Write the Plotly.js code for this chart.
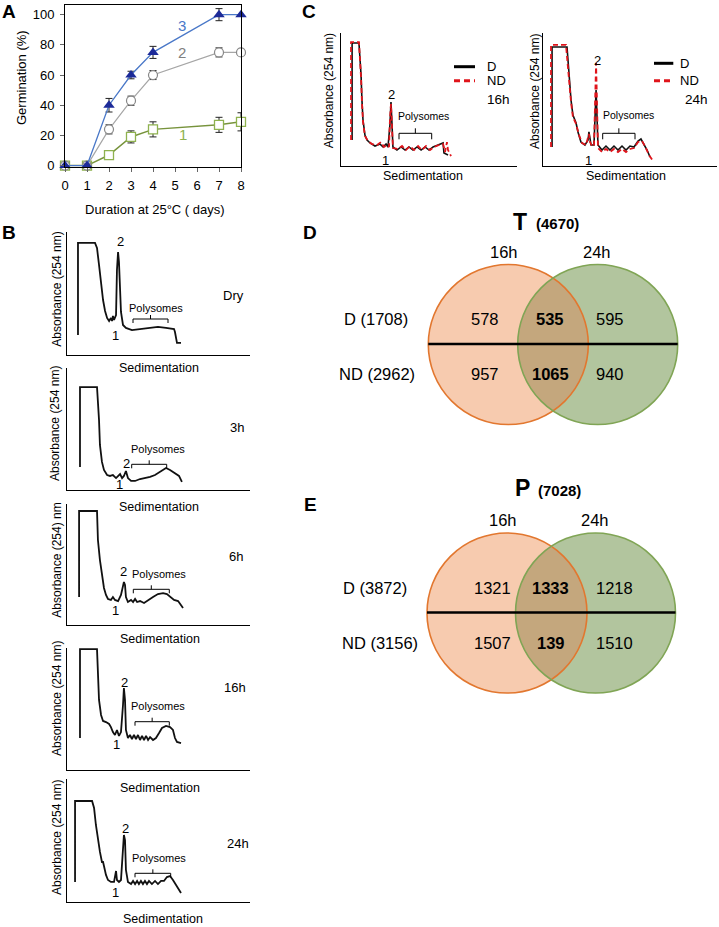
<!DOCTYPE html>
<html><head><meta charset="utf-8">
<script src="https://cdn.plot.ly/plotly-3.0.1.min.js"></script>
<style>html,body{margin:0;padding:0;background:#fff}#chart{width:719px;height:927px}</style>
</head><body><div id="chart"></div>
<script>
// ---------------- Panel A data ----------------
const daysX = [0,1,2,3,4,7,8];
const germ3 = [0,0,40,60,75,100,100];
const germ3Err = [0,1,4.5,2.5,4,4,0];
const germ2 = [0,0,24,43,60,75,75];
const germ2Err = [0,1,3,3,3,3,0];
const germ1 = [0,0,7,19,24,27,29];
const germ1Err = [0,1,2,4,5,5,6];
const dayTicks = [0,1,2,3,4,5,6,7,8];
const germTicks = [0,20,40,60,80,100];

// ---------------- Panel B profiles (sedimentation %, absorbance %) ----------------
const dryX = [6.0,6.0,15.3,16.4,17.5,18.6,19.7,20.8,21.9,23.0,24.0,24.6,25.1,25.7,26.8,27.3,27.9,28.4,29.0,29.5,30.6,32.2,35.5,39.9,45.4,49.7,54.1,58.5,59.0,59.6,60.1,62.3];
const dryY = [16.3,91.1,91.1,87.0,73.2,56.9,44.7,35.8,30.1,27.6,30.1,27.6,31.7,28.5,32.5,69.1,83.7,75.6,52.8,35.0,24.4,22.0,20.3,21.1,22.0,22.8,22.0,21.1,18.7,13.8,9.8,9.8];
const h3X = [7.1,7.1,16.4,16.9,17.5,18.0,19.1,20.2,21.9,23.5,25.1,26.8,27.9,29.0,30.1,31.1,32.2,33.3,35.0,37.2,39.9,42.6,45.4,48.1,50.8,54.1,56.3,59.0,61.2,62.8];
const h3Y = [18.9,84.4,84.4,73.8,57.4,36.9,23.0,16.4,12.3,11.5,12.3,9.8,11.5,13.1,9.8,11.5,15.6,9.8,7.4,7.4,9.0,9.8,10.7,12.3,14.8,18.0,16.4,13.9,11.5,6.6];
const h6X = [6.6,6.6,16.4,16.9,18.0,19.1,20.2,21.3,22.4,24.0,25.1,26.2,27.9,29.5,30.6,31.1,31.7,32.2,33.3,35.0,36.1,37.2,38.3,39.9,42.1,44.3,47.0,49.7,52.5,54.6,56.3,58.5,60.7,62.3,63.4];
const h6Y = [23.1,94.2,94.2,70.2,53.7,41.3,30.6,24.8,21.5,20.7,23.1,20.7,19.8,24.8,34.7,35.5,33.1,23.1,19.0,20.7,19.0,21.5,19.0,19.8,18.2,20.7,23.1,25.6,26.4,25.6,23.1,20.7,19.8,16.5,14.0];
const h16X = [7.1,7.1,16.4,16.9,17.5,18.6,19.7,21.3,23.0,24.0,25.1,26.2,27.3,28.4,29.5,30.6,31.1,31.7,32.2,33.3,34.4,35.5,36.6,37.7,38.8,39.9,41.0,42.1,43.2,44.3,45.4,47.0,48.6,50.3,51.9,54.1,56.3,57.9,59.0,60.1,62.3];
const h16Y = [26.2,99,99,73.8,57.4,45.1,40.2,39.3,37.7,35.2,31.1,28.7,32.8,27.9,31.1,53.3,67.2,57.4,32.8,26.2,28.7,25.4,28.7,25.4,28.7,24.6,27.9,24.6,27.9,24.6,27.0,24.6,26.2,30.3,34.4,36.1,35.2,32.8,26.2,23.0,22.1];
const h24X = [4.4,4.4,13.7,14.8,15.8,16.9,18.0,19.1,19.7,20.2,21.3,22.4,24.0,25.7,26.2,26.8,27.3,28.4,29.5,30.6,31.1,31.7,32.2,33.3,35.0,36.1,37.2,38.3,39.3,40.4,41.5,42.6,43.7,44.8,46.4,48.1,49.7,51.4,53.0,54.6,56.3,57.9,59.6,61.2,62.3];
const h24Y = [16.3,82.1,82.1,76.4,62.6,50.4,40.7,32.5,32.5,29.3,22.0,17.9,16.3,16.3,22.0,25.2,17.9,16.3,17.9,46.3,54.5,50.4,26.0,16.3,14.6,17.1,14.6,17.1,14.6,17.1,14.6,17.1,14.6,17.1,14.6,17.1,14.6,17.1,17.1,20.3,21.1,17.9,13.8,10.6,7.3];
const bLabels = ['Dry','3h','6h','16h','24h'];

// ---------------- Panel C profiles ----------------
const c16DX = [6.3,6.3,10.2,10.8,11.4,11.9,12.5,13.6,14.8,16.5,19.3,22.2,23.9,25.6,26.7,27.8,28.4,29.0,29.5,31.8,34.1,36.4,38.6,40.9,43.2,45.5,47.7,50.0,52.3,55.1,58.0,58.5,60.8];
const c16DY = [19.5,92.5,92.5,83.5,68.4,49.6,34.6,23.3,19.5,17.3,15.0,16.5,14.3,16.5,14.3,30.8,48.1,30.8,14.3,12.0,14.3,12.0,14.3,12.0,14.3,12.0,14.3,12.0,14.3,15.8,17.3,9.8,8.3];
const c16NDX = [5.7,5.7,10.2,10.8,11.4,11.9,12.5,13.6,15.3,17.6,20.5,22.7,24.4,26.1,27.3,27.8,28.4,29.0,29.5,32.4,34.7,36.9,39.2,41.5,43.8,46.0,48.3,50.6,52.8,55.7,58.0,59.1,60.2,60.8,62.5];
const c16NDY = [19.5,93.2,93.2,81.2,66.2,48.1,33.1,22.6,18.8,16.5,15.8,18.0,14.3,15.8,14.3,34.6,46.6,28.6,13.5,12.8,15.0,12.0,15.0,12.0,15.0,12.0,15.0,12.0,14.3,15.8,16.5,10.5,18.0,12.0,7.5];
const c24DX = [5.2,5.2,13.8,14.4,14.9,16.1,17.2,19.0,20.1,21.8,24.1,25.9,26.4,27.0,27.6,29.3,29.9,30.5,31.0,31.6,33.9,36.2,38.5,40.8,43.1,45.4,47.7,50.0,52.3,54.6,56.3,58.0,59.8,61.5];
const c24DY = [14.3,89.5,89.5,79.7,68.4,49.6,38.3,32.3,25.6,18.0,15.8,19.5,25.6,19.5,15.8,15.8,38.3,57.1,38.3,15.8,12.0,15.0,12.0,15.0,12.0,15.0,12.0,15.0,14.3,18.8,20.3,16.5,12.0,6.8];
const c24NDX = [4.6,4.6,13.2,13.8,14.9,16.1,17.2,19.0,20.7,22.4,24.7,25.9,26.4,27.0,28.2,29.3,29.9,30.5,31.0,31.6,33.9,36.2,38.5,40.8,43.1,45.4,47.7,50.0,52.3,54.6,56.9,58.6,60.9,63.2];
const c24NDY = [14.3,91.0,91.0,81.2,66.2,48.1,36.8,31.6,23.3,17.3,15.8,21.1,24.1,18.0,15.0,15.0,49.6,77.4,49.6,13.5,10.5,12.8,10.5,12.8,10.5,12.8,10.5,12.8,13.5,18.0,18.8,15.0,8.3,3.8];
const cSeries = ['D','ND'];
const cTimes = ['16h','24h'];

// ---------------- Panels D/E Venn counts ----------------
const vennSetLabels = ['16h','24h'];
const vennRowLabels = ['D','ND'];
const vennT_total = 4670;
const vennT_rowTotals = [1708, 2962];
const vennT_D = [578, 535, 595];
const vennT_ND = [957, 1065, 940];
const vennP_total = 7028;
const vennP_rowTotals = [3872, 3156];
const vennP_D = [1321, 1333, 1218];
const vennP_ND = [1507, 139, 1510];

// ================= drawing =================
const W = 719, H = 927;
const X = px => px / W, Y = py => 1 - py / H;
const FF = 'Liberation Sans, Arial, Helvetica, sans-serif';
const annotations = [];
const shapes = [];
function ann(text, px, py, size, opt) {
  opt = opt || {};
  annotations.push(Object.assign({
    text: text, x: X(px), y: Y(py), xref: 'paper', yref: 'paper', showarrow: false,
    xanchor: 'center', yanchor: 'middle', font: {family: FF, size: size, color: opt.color || '#000'}
  }, opt.extra || {}));
}
function bracket(xl, xr, yh, down, up) {
  const xm = (xl + xr) / 2;
  shapes.push({type: 'path', xref: 'paper', yref: 'paper',
    path: `M ${X(xl)},${Y(yh + down)} L ${X(xl)},${Y(yh)} L ${X(xr)},${Y(yh)} L ${X(xr)},${Y(yh + down)} M ${X(xm)},${Y(yh)} L ${X(xm)},${Y(yh - up)}`,
    line: {color: '#000', width: 1}});
}

const traces = [];
const layout = {
  width: W, height: H, margin: {l: 0, r: 0, t: 0, b: 0},
  paper_bgcolor: '#fff', plot_bgcolor: 'rgba(0,0,0,0)', showlegend: false,
  font: {family: FF, color: '#000'}
};

// ---- Panel A ----
layout.xaxis = {domain: [X(65), X(241)], range: [0, 8], tickvals: dayTicks, ticktext: dayTicks.map(String),
  ticks: 'outside', ticklen: 4, tickcolor: '#666', ticklabelstandoff: 3, showline: true, mirror: true, linecolor: '#000', linewidth: 1,
  showgrid: false, zeroline: false, tickfont: {size: 13, family: FF, color: '#000'}, anchor: 'y', fixedrange: true};
layout.yaxis = {domain: [Y(166.5), Y(5)], range: [-0.6, 106.4], tickvals: germTicks,
  ticks: 'outside', ticklen: 4, tickcolor: '#666', ticklabelstandoff: 3, showline: true, mirror: true, linecolor: '#000', linewidth: 1,
  showgrid: false, zeroline: false, tickfont: {size: 13, family: FF, color: '#000'}, anchor: 'x', fixedrange: true};
const errStyle = {type: 'data', visible: true, color: '#222', thickness: 1, width: 3.5};
traces.push({x: daysX, y: germ1, error_y: Object.assign({array: germ1Err}, errStyle), mode: 'lines+markers', cliponaxis: false,
  line: {color: '#77933c', width: 1.5}, marker: {symbol: 'square', size: 9, color: '#fff', line: {color: '#8fb24f', width: 1.3}}, xaxis: 'x', yaxis: 'y'});
traces.push({x: daysX, y: germ2, error_y: Object.assign({array: germ2Err}, errStyle), mode: 'lines+markers', cliponaxis: false,
  line: {color: '#a6a6a6', width: 1.2}, marker: {symbol: 'circle', size: 9, color: '#fff', line: {color: '#888', width: 1.2}}, xaxis: 'x', yaxis: 'y'});
traces.push({x: daysX, y: germ3, error_y: Object.assign({array: germ3Err}, errStyle), mode: 'lines+markers', cliponaxis: false,
  line: {color: '#4a78c8', width: 1.3}, marker: {symbol: 'triangle-up', size: 10, color: '#1c2a98'}, xaxis: 'x', yaxis: 'y'});
ann('<b>A</b>', 8.5, 11, 19);
ann('3', 182, 25, 15, {color: '#4a78c8'});
ann('2', 182, 53, 15, {color: '#808080'});
ann('1', 183, 135, 15, {color: '#8fb24f'});
ann('Germination (%)', 21, 78, 13, {extra: {textangle: -90}});
ann('Duration at 25°C ( days)', 155, 210, 13);

// ---- Panel B ----
const axPlain = {showline: true, linecolor: '#000', linewidth: 1.3, showticklabels: false, ticks: '',
  showgrid: false, zeroline: false, fixedrange: true, range: [0, 100]};
const bData = [[dryX, dryY], [h3X, h3Y], [h6X, h6Y], [h16X, h16Y], [h24X, h24Y]];
const bDom = [[232, 355], [368, 490], [504, 625], [648, 770], [779, 902]];
bData.forEach((d, i) => {
  const n = i + 2;
  layout['xaxis' + n] = Object.assign({}, axPlain, {domain: [X(67), X(250)], anchor: 'y' + n});
  layout['yaxis' + n] = Object.assign({}, axPlain, {domain: [Y(bDom[i][1]), Y(bDom[i][0])], anchor: 'x' + n});
  traces.push({x: d[0], y: d[1], mode: 'lines', line: {color: '#111', width: 1.8}, xaxis: 'x' + n, yaxis: 'y' + n});
});
ann('<b>B</b>', 9, 232.5, 19);
const bAbs = [[56.7, 289, 'Absorbance (254 nm)'], [55, 423, 'Absorbance (254 nm)'], [56.7, 560, 'Absorbance (254) nm'], [57, 699, 'Absorbance (254 nm)'], [57, 838, 'Absorbance (254 nm)']];
const bSed = [[159, 368.3], [159, 507.3], [160, 639], [160, 788.3], [162.7, 918.5]];
const bTime = [[233, 295], [236.7, 427.3], [236, 556.7], [235, 687.7], [238.3, 843.3]];
const bTwo = [[120.7, 241.7], [126.7, 463], [123.3, 571.7], [124, 682.7], [125, 828.3]];
const bOne = [[115, 335], [119.3, 485], [116, 610], [116.7, 744], [116, 892.3]];
const bPoly = [[156, 307.5], [158.3, 449.3], [159.3, 574.3], [158.3, 705.7], [159.3, 857.7]];
const bBr = [[133, 168, 319], [131.7, 166.7, 464.3], [133.3, 169.3, 589.3], [135, 169.3, 721.7], [135, 170.7, 873.3]];
for (let i = 0; i < 5; i++) {
  ann(bAbs[i][2], bAbs[i][0], bAbs[i][1], 12, {extra: {textangle: -90}});
  ann('Sedimentation', bSed[i][0], bSed[i][1], 12.5);
  ann(bLabels[i], bTime[i][0], bTime[i][1], 13);
  ann('2', bTwo[i][0], bTwo[i][1], 13);
  ann('1', bOne[i][0], bOne[i][1], 13);
  ann('Polysomes', bPoly[i][0], bPoly[i][1], 11);
  bracket(bBr[i][0], bBr[i][1], bBr[i][2], 4, 4);
}

// ---- Panel C ----
const cDom = [[341, 517], [543, 717]];
const cData = [[c16DX, c16DY, c16NDX, c16NDY], [c24DX, c24DY, c24NDX, c24NDY]];
cData.forEach((d, i) => {
  const n = i + 7;
  layout['xaxis' + n] = Object.assign({}, axPlain, {domain: [X(cDom[i][0]), X(cDom[i][1])], anchor: 'y' + n});
  layout['yaxis' + n] = Object.assign({}, axPlain, {domain: [Y(166), Y(33)], anchor: 'x' + n});
  traces.push({x: d[0], y: d[1], mode: 'lines', line: {color: '#111', width: 1.6}, xaxis: 'x' + n, yaxis: 'y' + n, name: cSeries[0]});
  traces.push({x: d[2], y: d[3], mode: 'lines', line: {color: '#e0141b', width: 1.8, dash: '5px,3px'}, xaxis: 'x' + n, yaxis: 'y' + n, name: cSeries[1]});
});
ann('<b>C</b>', 309, 11, 19);
[[329.3, 91], [535, 92]].forEach(p => ann('Absorbance (254 nm)', p[0], p[1], 12, {extra: {textangle: -90}}));
[[423.3, 176], [626, 176]].forEach(p => ann('Sedimentation', p[0], p[1], 12.5));
ann('2', 391.7, 94.3, 13); ann('1', 385, 160, 13); ann('Polysomes', 423.3, 116, 10.5);
ann('2', 597.7, 60, 13); ann('1', 588.3, 160, 13); ann('Polysomes', 628.3, 115, 10.5);
bracket(399, 431.7, 133.3, 6, 5);
bracket(602.7, 635, 133.3, 6, 5);
const cLeg = [{lx: [454, 475], ty: [66.7, 80.7], tx: 485, time: [485, 100]}, {lx: [654, 673.3], ty: [63.3, 80.7], tx: 678.3, time: [683.3, 100]}];
cLeg.forEach((L, i) => {
  shapes.push({type: 'line', xref: 'paper', yref: 'paper', x0: X(L.lx[0]), x1: X(L.lx[1]), y0: Y(L.ty[0]), y1: Y(L.ty[0]), line: {color: '#000', width: 3}});
  shapes.push({type: 'line', xref: 'paper', yref: 'paper', x0: X(L.lx[0]), x1: X(L.lx[1]), y0: Y(L.ty[1]), y1: Y(L.ty[1]), line: {color: '#e0141b', width: 3, dash: '6px,4px'}});
  ann(cSeries[0], L.tx, L.ty[0], 13, {extra: {xanchor: 'left'}});
  ann(cSeries[1], L.tx, L.ty[1], 13, {extra: {xanchor: 'left'}});
  ann(cTimes[i], L.time[0], L.time[1], 13.5, {extra: {xanchor: 'left'}});
});

// ---- Panels D / E Venn ----
function venn(letter, letterPos, setLetter, total, rowTotals, rowD, rowND, geo) {
  const {c1x, c2x, cy, r} = geo;
  const fillO = '#f7cbaf', fillG = '#b2c59e', fillL = '#c4a77d', lineO = '#e2772f', lineG = '#80a555';
  shapes.push({type: 'circle', xref: 'paper', yref: 'paper', x0: X(c1x - r), x1: X(c1x + r), y0: Y(cy + r), y1: Y(cy - r), fillcolor: fillO, line: {width: 0}});
  shapes.push({type: 'circle', xref: 'paper', yref: 'paper', x0: X(c2x - r), x1: X(c2x + r), y0: Y(cy + r), y1: Y(cy - r), fillcolor: fillG, line: {width: 0}});
  const a = (c2x - c1x) / 2, alpha = Math.acos(a / r);
  let p = '';
  const N = 40;
  for (let k = 0; k <= N; k++) { const t = -alpha + 2 * alpha * k / N; p += (k ? ' L ' : 'M ') + X(c1x + r * Math.cos(t)) + ',' + Y(cy + r * Math.sin(t)); }
  for (let k = 0; k <= N; k++) { const t = alpha - 2 * alpha * k / N; p += ' L ' + X(c2x - r * Math.cos(t)) + ',' + Y(cy + r * Math.sin(t)); }
  p += ' Z';
  shapes.push({type: 'path', xref: 'paper', yref: 'paper', path: p, fillcolor: fillL, line: {width: 0}});
  shapes.push({type: 'circle', xref: 'paper', yref: 'paper', x0: X(c1x - r), x1: X(c1x + r), y0: Y(cy + r), y1: Y(cy - r), line: {color: lineO, width: 1.6}});
  shapes.push({type: 'circle', xref: 'paper', yref: 'paper', x0: X(c2x - r), x1: X(c2x + r), y0: Y(cy + r), y1: Y(cy - r), line: {color: lineG, width: 1.6}});
  shapes.push({type: 'line', xref: 'paper', yref: 'paper', x0: X(c1x - r), x1: X(c2x + r), y0: Y(cy - 0.5), y1: Y(cy - 0.5), line: {color: '#000', width: 2.3}});
  ann('<b>' + letter + '</b>', letterPos[0], letterPos[1], 19);
  ann('<b>' + setLetter + '</b>', geo.tx, geo.ty, 23);
  ann('<b>(' + total + ')</b>', geo.tx + 37.5, geo.ty + 2, 15);
  ann(vennSetLabels[0], c1x - 4, geo.sy, 16.5);
  ann(vennSetLabels[1], c2x - 1, geo.sy, 16.5);
  ann(vennRowLabels[0] + ' (' + rowTotals[0] + ')', geo.rx[0], cy - 25.5, 16.5);
  ann(vennRowLabels[1] + ' (' + rowTotals[1] + ')', geo.rx[1], cy + 29.5, 16.5);
  const xs = geo.nx;
  ann(String(rowD[0]), xs[0], cy - 25.5, 16.5);
  ann('<b>' + rowD[1] + '</b>', xs[1], cy - 25.5, 16.5);
  ann(String(rowD[2]), xs[2], cy - 25.5, 16.5);
  ann(String(rowND[0]), xs[0], cy + 29.5, 16.5);
  ann('<b>' + rowND[1] + '</b>', xs[1], cy + 29.5, 16.5);
  ann(String(rowND[2]), xs[2], cy + 29.5, 16.5);
}
venn('D', [310, 232], 'T', vennT_total, vennT_rowTotals, vennT_D, vennT_ND,
  {c1x: 508.3, c2x: 597.7, cy: 344.5, r: 80, tx: 520, ty: 222, sy: 252.3, rx: [375.5, 377.5], nx: [485, 550, 610]});
venn('E', [310, 504], 'P', vennP_total, vennP_rowTotals, vennP_D, vennP_ND,
  {c1x: 507, c2x: 595.5, cy: 613, r: 80, tx: 522.3, ty: 488.3, sy: 520, rx: [375, 380], nx: [492.7, 550.7, 614.3]});

layout.annotations = annotations;
layout.shapes = shapes;
Plotly.newPlot('chart', traces, layout, {displayModeBar: false, staticPlot: true});
</script>
</body></html>
